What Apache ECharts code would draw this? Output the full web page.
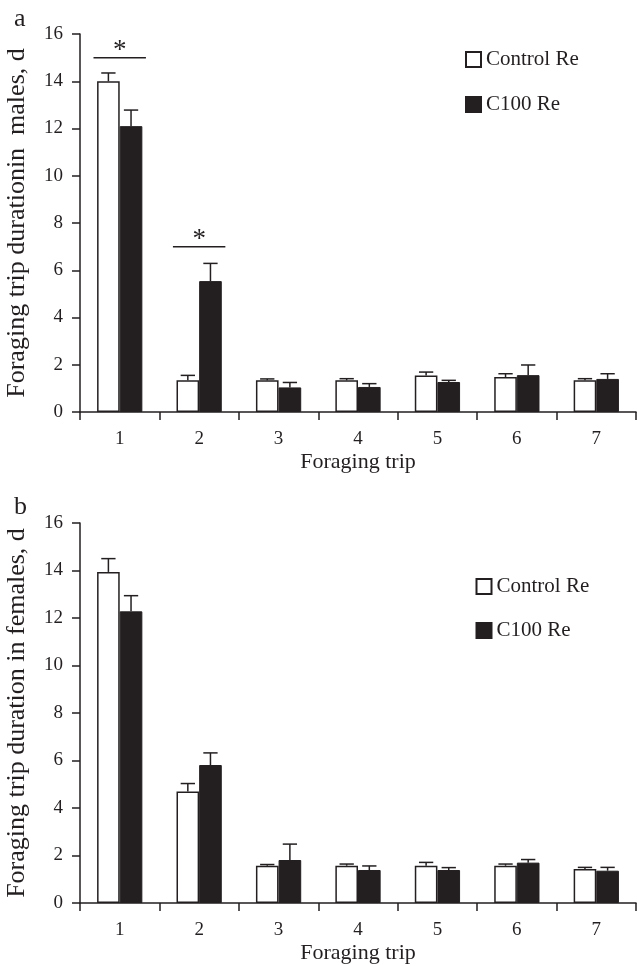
<!DOCTYPE html>
<html>
<head>
<meta charset="utf-8">
<script src="https://cdn.jsdelivr.net/npm/echarts@6/dist/echarts.min.js"></script>
<style>
html,body{margin:0;padding:0;background:#fff;}
#chart{width:637px;height:966px;}
</style>
</head>
<body>
<div id="chart"></div>
<script>
// ---- data ----
const categories = ['1', '2', '3', '4', '5', '6', '7'];
const seriesNames = ['Control Re', 'C100 Re'];
// panel a: males (mean and upper end of error bar)
const maleControl    = [14.0, 1.34, 1.34, 1.34, 1.55, 1.48, 1.34];
const maleControlErr = [14.35, 1.55, 1.40, 1.41, 1.69, 1.62, 1.41];
const maleC100       = [12.1, 5.54, 1.04, 1.06, 1.27, 1.56, 1.40];
const maleC100Err    = [12.78, 6.29, 1.25, 1.20, 1.34, 1.99, 1.62];
// panel b: females
const femaleControl    = [13.94, 4.70, 1.57, 1.57, 1.57, 1.57, 1.43];
const femaleControlErr = [14.5, 5.03, 1.62, 1.64, 1.71, 1.64, 1.50];
const femaleC100       = [12.28, 5.81, 1.81, 1.39, 1.39, 1.70, 1.36];
const femaleC100Err    = [12.94, 6.32, 2.48, 1.56, 1.49, 1.83, 1.50];
// significance brackets in panel a: [category index, bracket height]
const maleSig = [[0, 15], [1, 7]];
const yMin = 0, yMax = 16, yInterval = 2;
const xName = 'Foraging trip';
const yNameMale = 'Foraging trip durationin  males, d';
const yNameFemale = 'Foraging trip duration in females, d';

// ---- styling ----
const INK = '#231f20';
const FONT = "'Liberation Serif', 'Times New Roman', serif";
const GAP = 0.43;
const BAR_FRAC = (1 - GAP) / 2;

const chart = echarts.init(document.getElementById('chart'), null, {renderer: 'canvas'});

function errData(vals, errs, sign) {
  return vals.map((v, i) => [i, v, errs[i], sign]);
}
function renderErr(params, api) {
  const i = api.value(0);
  const band = api.size([1, 0])[0];
  const off = api.value(3) * band * BAR_FRAC / 2;
  const base = api.coord([i, api.value(1)]);
  const top = api.coord([i, api.value(2)]);
  const x = base[0] + off;
  const cap = band * 0.09;
  const st = {stroke: INK, lineWidth: 1.5};
  return {type: 'group', children: [
    {type: 'line', shape: {x1: x, y1: base[1], x2: x, y2: top[1]}, style: st},
    {type: 'line', shape: {x1: x - cap, y1: top[1], x2: x + cap, y2: top[1]}, style: st}
  ]};
}
function renderSig(params, api) {
  const i = api.value(0);
  const band = api.size([1, 0])[0];
  const p = api.coord([i, api.value(1)]);
  const half = band * 0.33;
  return {type: 'group', children: [
    {type: 'line', shape: {x1: p[0] - half, y1: p[1], x2: p[0] + half, y2: p[1]}, style: {stroke: INK, lineWidth: 1.5}},
    {type: 'text', style: {text: '*', x: p[0], y: p[1] - 7, textAlign: 'center', textVerticalAlign: 'middle', font: '27px ' + FONT, fill: INK}}
  ]};
}

function xAxis(gi) {
  return {
    type: 'category', gridIndex: gi, data: categories,
    boundaryGap: true,
    name: xName, nameLocation: 'middle', nameGap: 39,
    nameTextStyle: {fontFamily: FONT, fontSize: 22, color: INK},
    axisLine: {lineStyle: {color: INK, width: 1.5}},
    axisTick: {show: true, inside: false, length: 8, alignWithLabel: false, lineStyle: {color: INK, width: 1.5}},
    axisLabel: {fontFamily: FONT, fontSize: 19, color: INK, margin: 18},
    splitLine: {show: false}
  };
}
function yAxis(gi, name) {
  return {
    type: 'value', gridIndex: gi, min: yMin, max: yMax, interval: yInterval,
    name: name, nameLocation: 'middle', nameGap: 50,
    nameTextStyle: {fontFamily: FONT, fontSize: 26, color: INK},
    axisLine: {show: true, lineStyle: {color: INK, width: 1.5}},
    axisTick: {show: true, inside: false, length: 8, lineStyle: {color: INK, width: 1.5}},
    axisLabel: {fontFamily: FONT, fontSize: 19, color: INK, margin: 17},
    splitLine: {show: false}
  };
}
function bars(gi, ctrl, c100) {
  return [
    {name: seriesNames[0], type: 'bar', xAxisIndex: gi, yAxisIndex: gi, data: ctrl,
     barGap: '0%', barCategoryGap: (GAP * 100) + '%',
     itemStyle: {color: '#ffffff', borderColor: INK, borderWidth: 1.5}, silent: true},
    {name: seriesNames[1], type: 'bar', xAxisIndex: gi, yAxisIndex: gi, data: c100,
     barGap: '0%', barCategoryGap: (GAP * 100) + '%',
     itemStyle: {color: INK, borderColor: INK, borderWidth: 1}, silent: true}
  ];
}
function errSeries(gi, vals, errs, sign) {
  return {type: 'custom', xAxisIndex: gi, yAxisIndex: gi, renderItem: renderErr,
          data: errData(vals, errs, sign), encode: {x: 0, y: [1, 2]}, z: 5, silent: true};
}
function legend(left, top, gap) {
  return {
    data: seriesNames, orient: 'vertical', left: left, top: top,
    itemWidth: 15, itemHeight: 15, itemGap: gap, icon: 'rect',
    textStyle: {fontFamily: FONT, fontSize: 21, color: INK, lineHeight: 15},
    selectedMode: false
  };
}

const option = {
  animation: false,
  backgroundColor: '#ffffff',
  title: [
    {text: 'a', left: 9, top: 1, textStyle: {fontFamily: FONT, fontSize: 26, fontWeight: 'normal', color: INK}},
    {text: 'b', left: 9, top: 489, textStyle: {fontFamily: FONT, fontSize: 26, fontWeight: 'normal', color: INK}}
  ],
  legend: [legend(460, 44, 24), legend(470.5, 571, 23)],
  grid: [
    {left: 80, right: 1, top: 34, height: 378, containLabel: false, outerBoundsMode: 'none'},
    {left: 80, right: 1, top: 523, height: 380, containLabel: false, outerBoundsMode: 'none'}
  ],
  xAxis: [xAxis(0), xAxis(1)],
  yAxis: [yAxis(0, yNameMale), yAxis(1, yNameFemale)],
  series: [
    ...bars(0, maleControl, maleC100),
    errSeries(0, maleControl, maleControlErr, -1),
    errSeries(0, maleC100, maleC100Err, 1),
    {type: 'custom', xAxisIndex: 0, yAxisIndex: 0, renderItem: renderSig, data: maleSig, encode: {x: 0, y: 1}, z: 5, silent: true},
    ...bars(1, femaleControl, femaleC100),
    errSeries(1, femaleControl, femaleControlErr, -1),
    errSeries(1, femaleC100, femaleC100Err, 1)
  ]
};
chart.setOption(option);
</script>
</body>
</html>
